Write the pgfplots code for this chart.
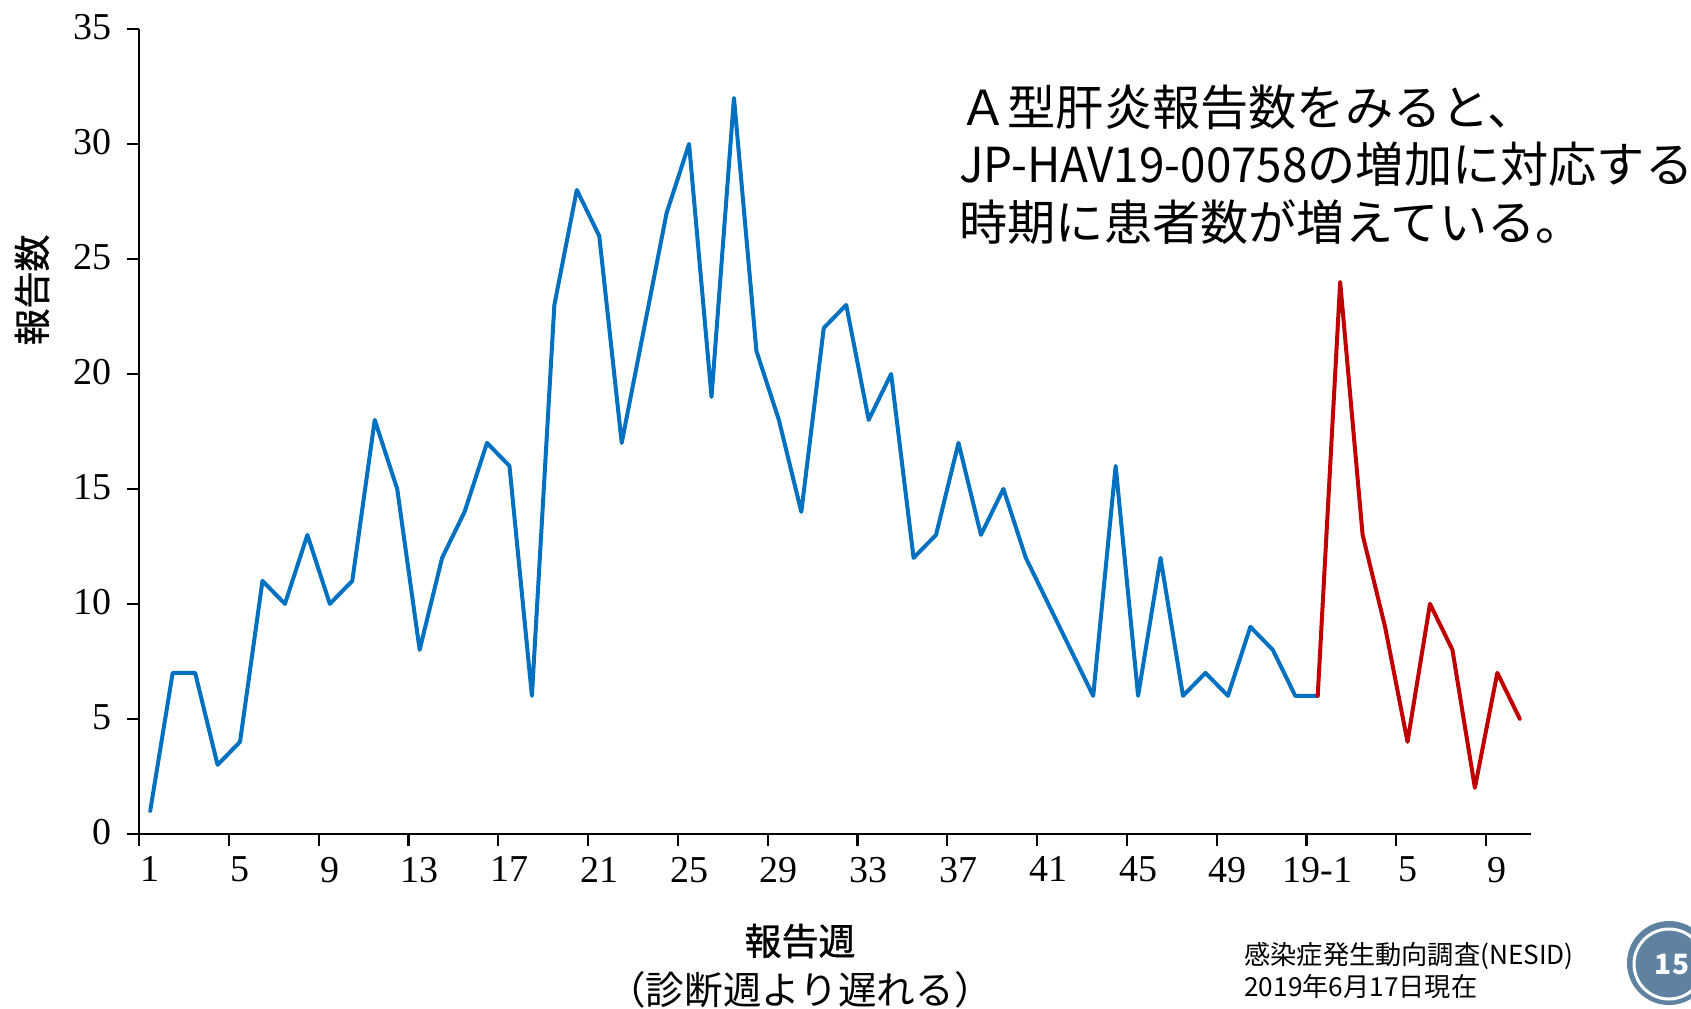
\documentclass[border=0pt]{standalone}
\usepackage{fontspec}
\setmainfont{Liberation Serif}
\newfontfamily\cjk{Noto Sans CJK JP}
\newfontfamily\cjkcond{Noto Sans CJK JP}[FakeStretch=0.95]
\newfontfamily\cjkmed{Noto Sans CJK JP}[FakeBold=1]
\usepackage{pgfplots}
\pgfplotsset{compat=1.18}
\definecolor{seriesblue}{RGB}{0,112,192}
\definecolor{seriesred}{RGB}{192,0,0}
\definecolor{badge}{RGB}{94,130,160}
\begin{document}
\begin{tikzpicture}[x=0.5pt,y=-0.5pt]
\clip (0,0) rectangle (1691,1008);
\path[fill=white] (0,0) rectangle (1691,1008);
\begin{axis}[
  at={(139pt*0.5,-833.8pt*0.5)}, anchor=origin,
  scale only axis, width=696pt, height=402.4pt,
  xmin=0, xmax=62, ymin=0, ymax=35,
  axis lines=left, axis line style={line width=1.3pt,-},
  xtick={0,4,...,60}, xticklabels={},
  extra x ticks={0.5,4.5,8.5,12.5,16.5,20.5,24.5,28.5,32.5,36.5,40.5,44.5,48.5,52.5,56.5,60.5},
  extra x tick labels={1,5,9,13,17,21,25,29,33,37,41,45,49,19-1,5,9},
  extra x tick style={major tick length=0pt, tick label style={yshift=-8pt}},
  ytick={0,5,...,35},
  tick align=outside, major tick length=6pt,
  tick style={line width=1.1pt,black},
  tick label style={font=\fontsize{19}{21}\selectfont,
    /pgf/number format/assume math mode=true},
  y tick label style={xshift=-4pt,yshift=1pt},
  clip=false,
]
% weekly reports, 2018
\addplot[seriesblue,line width=2pt,line join=round,line cap=round] coordinates {
(0.5,1)(1.5,7)(2.5,7)(3.5,3)(4.5,4)(5.5,11)(6.5,10)(7.5,13)(8.5,10)(9.5,11)
(10.5,18)(11.5,15)(12.5,8)(13.5,12)(14.5,14)(15.5,17)(16.5,16)(17.5,6)(18.5,23)(19.5,28)
(20.5,26)(21.5,17)(22.5,22)(23.5,27)(24.5,30)(25.5,19)(26.5,32)(27.5,21)(28.5,18)(29.5,14)
(30.5,22)(31.5,23)(32.5,18)(33.5,20)(34.5,12)(35.5,13)(36.5,17)(37.5,13)(38.5,15)(39.5,12)
(40.5,10)(41.5,8)(42.5,6)(43.5,16)(44.5,6)(45.5,12)(46.5,6)(47.5,7)(48.5,6)(49.5,9)
(50.5,8)(51.5,6)(52.5,6)};
% weekly reports, 2019
\addplot[seriesred,line width=2pt,line join=round,line cap=round] coordinates {
(52.5,6)(53.5,24)(54.5,13)(55.5,9)(56.5,4)(57.5,10)(58.5,8)(59.5,2)(60.5,7)(61.5,5)};
\end{axis}
% axis titles
\node[rotate=90,font=\fontsize{18.5}{20}\selectfont\cjkmed] at (32,290) {報告数};
\node[font=\fontsize{18.5}{20}\selectfont\cjkmed] at (800,941) {報告週};
\node[font=\fontsize{19.3}{20}\selectfont\cjk] at (800,990) {（診断週より遅れる）};
% annotation
\node[anchor=west,inner xsep=0pt,font=\fontsize{24.1}{30}\selectfont\cjk] at (959,107) {Ａ型肝炎報告数をみると、};
\node[anchor=west,inner xsep=0pt,font=\fontsize{24.1}{30}\selectfont\cjk] at (959,164) {{\cjkcond JP-HAV19-00758}の増加に対応する};
\node[anchor=west,inner xsep=0pt,font=\fontsize{24.1}{30}\selectfont\cjk] at (959,222) {時期に患者数が増えている。};
% source note
\node[anchor=west,inner xsep=0pt,font=\fontsize{13.1}{15}\selectfont\cjk] at (1244,956) {感染症発生動向調査(NESID)};
\node[anchor=west,inner xsep=0pt,font=\fontsize{13.1}{15}\selectfont\cjk] at (1244,987) {2019年6月17日現在};
% page badge
\fill[badge] (1669,963) circle (42);
\draw[white,line width=1.5pt] (1669,964) circle (35);
\node[white,font=\fontsize{14}{15}\selectfont\bfseries\cjk] at (1672,965) {15};
\end{tikzpicture}
\end{document}
